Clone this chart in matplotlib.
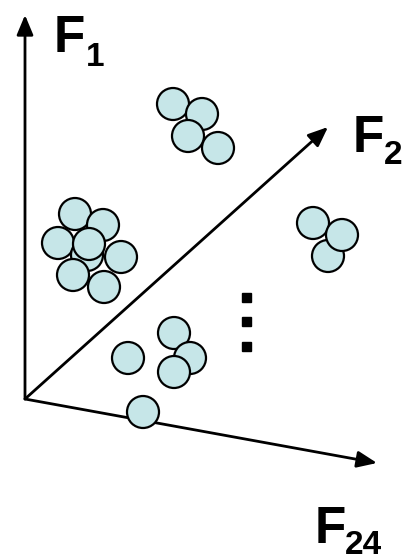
import matplotlib.pyplot as plt
from matplotlib.patches import Circle, Rectangle

# Diagram in pixel coordinates (x right, y down)
origin = (25, 399)

# axis arrow tips
axis_names = ['F1', 'F2', 'F24']
tip_x = [25, 328, 377]
tip_y = [15, 127, 463]

# clusters of samples (circle centres)
cluster_top_x = [173, 202, 188, 218]
cluster_top_y = [104, 114, 136, 148]

cluster_left_x = [75, 103, 58, 87, 89, 121, 73, 104]
cluster_left_y = [214, 225, 243, 255, 244, 257, 275, 287]

cluster_right_x = [313, 328, 342]
cluster_right_y = [223, 256, 235]

cluster_bottom_x = [128, 174, 190, 174, 143]
cluster_bottom_y = [358, 333, 358, 372, 412]

# vertical ellipsis
dots_x = [246, 246, 246]
dots_y = [297, 321, 346]

# labels: main letter and subscript
label_main = ['F', 'F', 'F']
label_sub = ['1', '2', '24']
label_x = [54, 353, 315]
label_y = [52, 152, 543]
sub_x = [86, 384, 345]
sub_y = [66, 164, 554]

fill = '#C6E6E8'
radius = 16

fig = plt.figure(figsize=(4.04, 5.58), dpi=100)
ax = fig.add_axes([0, 0, 1, 1])
ax.set_xlim(0, 404)
ax.set_ylim(558, 0)
ax.set_aspect('equal')
ax.axis('off')

for tx, ty in zip(tip_x, tip_y):
    ax.annotate('', xy=(tx, ty), xytext=origin,
                arrowprops=dict(arrowstyle='-|>,head_length=1.2,head_width=0.5',
                                color='black', lw=2.0, shrinkA=0, shrinkB=0),
                zorder=1)

for xs, ys in [(cluster_top_x, cluster_top_y), (cluster_left_x, cluster_left_y),
               (cluster_right_x, cluster_right_y), (cluster_bottom_x, cluster_bottom_y)]:
    for cx, cy in zip(xs, ys):
        ax.add_patch(Circle((cx, cy), radius, facecolor=fill, edgecolor='black',
                            lw=1.6, zorder=2))

for dx, dy in zip(dots_x, dots_y):
    ax.add_patch(Rectangle((dx - 4.5, dy - 4.5), 9, 9, color='black', zorder=3))

for m, s, x, y, sx, sy in zip(label_main, label_sub, label_x, label_y, sub_x, sub_y):
    ax.text(x, y, m, fontsize=37, fontweight='bold', family='Liberation Sans',
            ha='left', va='baseline')
    ax.text(sx, sy, s, fontsize=24, fontweight='bold', family='Liberation Sans',
            ha='left', va='baseline')

fig.savefig('out.png', dpi=100)
